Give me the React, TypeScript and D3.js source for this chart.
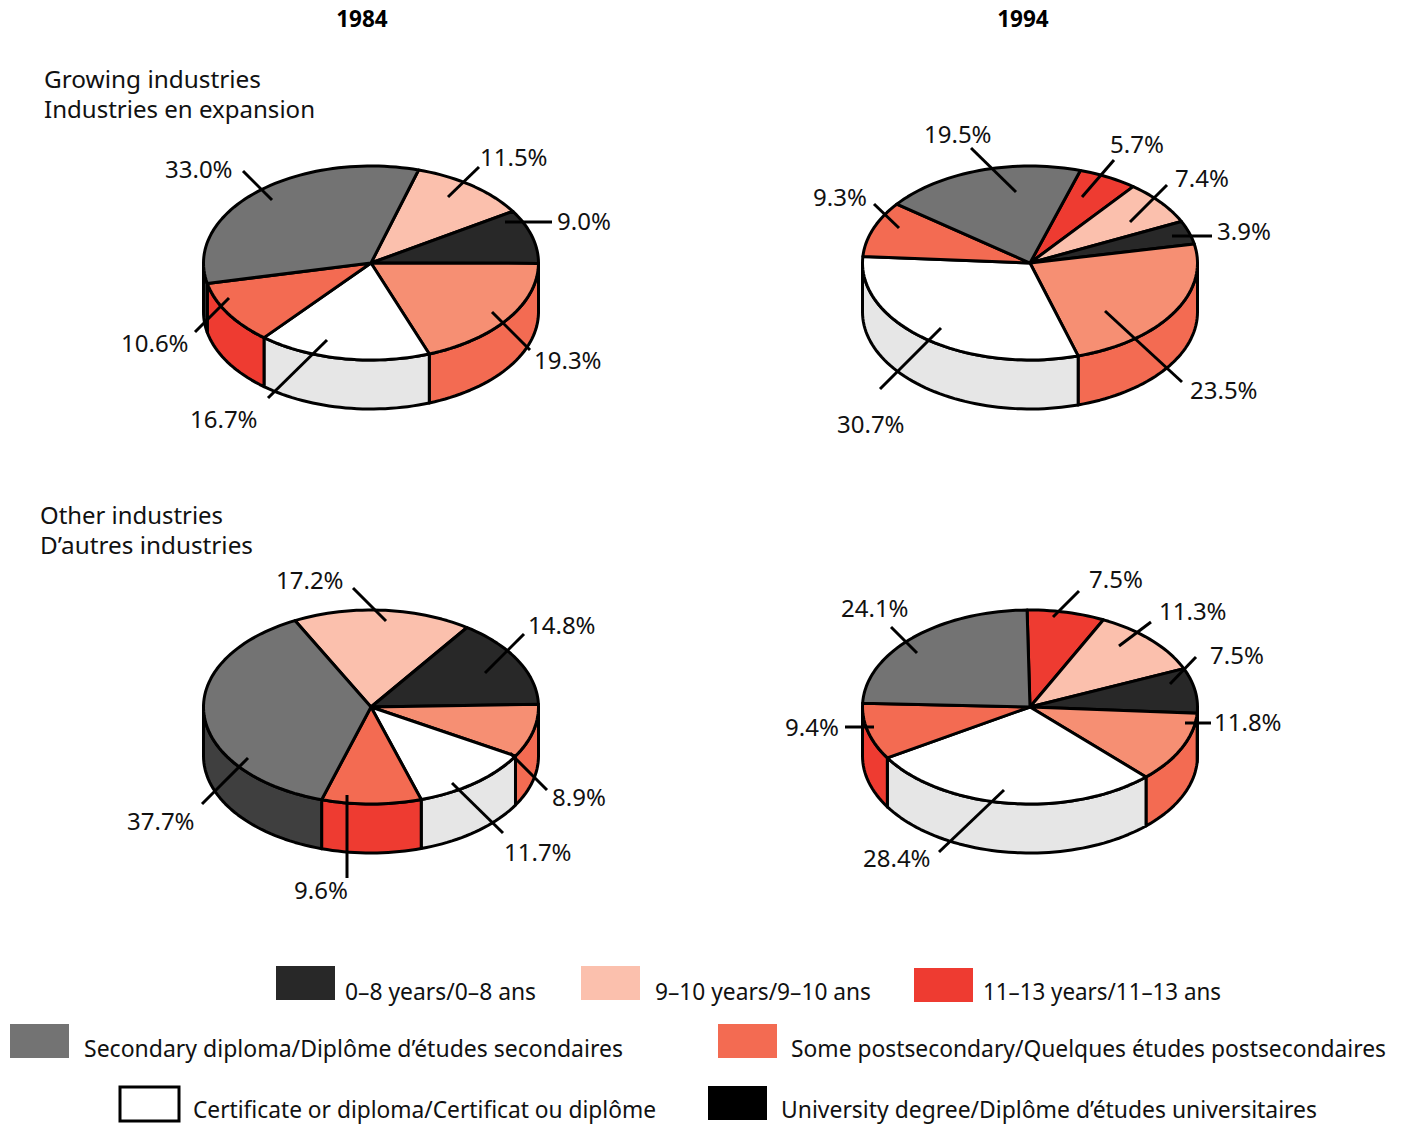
import React from "react";
import * as d3 from "d3";

// Education attainment shares by pie
const growing1984Values = [11.5, 9.0, 19.3, 16.7, 10.6, 33.0];
const growing1984Groups = ["pink", "dark", "salmon", "white", "coral", "grey"];
const growing1994Values = [5.7, 7.4, 3.9, 23.5, 30.7, 9.3, 19.5];
const growing1994Groups = ["red", "pink", "dark", "salmon", "white", "coral", "grey"];
const other1984Values = [17.2, 14.8, 8.9, 11.7, 9.6, 37.7];
const other1984Groups = ["pink", "dark", "salmon", "white", "coral", "grey"];
const other1994Values = [7.5, 11.3, 7.5, 11.8, 28.4, 9.4, 24.1];
const other1994Groups = ["red", "pink", "dark", "salmon", "white", "coral", "grey"];

const yearLabels = ["1984", "1994"];
const sectionLabels = [
  ["Growing industries", "Industries en expansion"],
  ["Other industries", "D’autres industries"],
];
const legendLabels = [
  "0–8 years/0–8 ans",
  "9–10 years/9–10 ans",
  "11–13 years/11–13 ans",
  "Secondary diploma/Diplôme d’études secondaires",
  "Some postsecondary/Quelques études postsecondaires",
  "Certificate or diploma/Certificat ou diplôme",
  "University degree/Diplôme d’études universitaires",
];

// Top face and outer wall colours per slice group
const topColour: Record<string, string> = {
  pink: "#FBC0AD",
  dark: "#282828",
  salmon: "#F68F73",
  white: "#FFFFFF",
  coral: "#F36B52",
  grey: "#737373",
  red: "#EE3B31",
};
const wallColour: Record<string, string> = {
  salmon: "#F36B52",
  white: "#E6E6E6",
  coral: "#EE3B31",
  grey: "#3F3F3F",
};

const RX = 167.5;
const RY = 97;
const DEPTH = 49;
const FONT = "'Noto Sans', sans-serif";

type Callout = { text: string; x: number; y: number; line: number[] };

const growing1984Callouts: Callout[] = [
  { text: "33.0%", x: 165, y: 178, line: [243, 171, 272, 200] },
  { text: "11.5%", x: 480, y: 166, line: [479, 167, 448, 197] },
  { text: "9.0%", x: 557, y: 230, line: [552, 222, 505, 222] },
  { text: "19.3%", x: 534, y: 369, line: [530, 350, 492, 312] },
  { text: "16.7%", x: 190, y: 428, line: [268, 398, 327, 340] },
  { text: "10.6%", x: 121, y: 352, line: [195, 332, 229, 298] },
];
const growing1994Callouts: Callout[] = [
  { text: "19.5%", x: 924, y: 143, line: [971, 148, 1016, 192] },
  { text: "5.7%", x: 1110, y: 153, line: [1114, 160, 1082, 197] },
  { text: "7.4%", x: 1175, y: 187, line: [1167, 185, 1130, 222] },
  { text: "3.9%", x: 1217, y: 240, line: [1212, 236, 1172, 236] },
  { text: "23.5%", x: 1190, y: 399, line: [1182, 382, 1105, 311] },
  { text: "30.7%", x: 837, y: 433, line: [880, 389, 941, 328] },
  { text: "9.3%", x: 813, y: 206, line: [874, 204, 899, 228] },
];
const other1984Callouts: Callout[] = [
  { text: "17.2%", x: 276, y: 589, line: [353, 588, 386, 621] },
  { text: "14.8%", x: 528, y: 634, line: [524, 634, 485, 673] },
  { text: "8.9%", x: 552, y: 806, line: [547, 790, 510, 753] },
  { text: "11.7%", x: 504, y: 861, line: [503, 833, 452, 783] },
  { text: "9.6%", x: 294, y: 899, line: [347, 878, 347, 795] },
  { text: "37.7%", x: 127, y: 830, line: [202, 804, 248, 758] },
];
const other1994Callouts: Callout[] = [
  { text: "24.1%", x: 841, y: 617, line: [891, 627, 917, 653] },
  { text: "7.5%", x: 1089, y: 588, line: [1079, 591, 1053, 617] },
  { text: "11.3%", x: 1159, y: 620, line: [1151, 622, 1119, 646] },
  { text: "7.5%", x: 1210, y: 664, line: [1196, 657, 1170, 684] },
  { text: "11.8%", x: 1214, y: 731, line: [1211, 723, 1185, 723] },
  { text: "9.4%", x: 785, y: 736, line: [845, 727, 874, 727] },
  { text: "28.4%", x: 863, y: 867, line: [939, 852, 1004, 790] },
];

const rad = (deg: number) => (deg * Math.PI) / 180;

function Pie3D({
  cx, cy, start, values, groups, callouts,
}: {
  cx: number; cy: number; start: number; values: number[]; groups: string[]; callouts: Callout[];
}) {
  const slices = d3
    .pie<number>()
    .sort(null)
    .startAngle(rad(start))
    .endAngle(rad(start + 360))(values);

  const pt = (t: number, dy = 0): [number, number] => [
    cx + RX * Math.sin(t),
    cy - RY * Math.cos(t) + dy,
  ];
  const line = d3.line<[number, number]>();
  const samples = (a: number, b: number, dy = 0) => {
    const n = Math.max(2, Math.ceil(Math.abs(b - a) / rad(2)));
    return d3.range(n + 1).map((i) => pt(a + ((b - a) * i) / n, dy));
  };

  const frontStart = rad(90);
  const frontEnd = rad(270);
  const walls = slices.flatMap((s, i) => {
    // A slice may wrap past a full turn, so test it on both sides
    const spans = [0, 2 * Math.PI].map((shift) => [
      Math.max(s.startAngle, frontStart + shift),
      Math.min(s.endAngle, frontEnd + shift),
    ]);
    return spans
      .filter(([a, b]) => b > a)
      .map(([a, b]) => ({
        key: `w${i}-${a}`,
        fill: wallColour[groups[i]] ?? topColour[groups[i]],
        d: line([...samples(a, b), ...samples(b, a, DEPTH)]) + "Z",
      }));
  });

  return (
    <g>
      {walls.map((w) => (
        <path key={w.key} d={w.d} fill={w.fill} stroke="#000" strokeWidth={3} strokeLinejoin="round" />
      ))}
      {slices.map((s, i) => (
        <path
          key={i}
          d={line([[cx, cy], ...samples(s.startAngle, s.endAngle)]) + "Z"}
          fill={topColour[groups[i]]}
          stroke="#000"
          strokeWidth={3}
          strokeLinejoin="round"
        />
      ))}
      {callouts.map((c, i) => (
        <g key={i}>
          <line x1={c.line[0]} y1={c.line[1]} x2={c.line[2]} y2={c.line[3]} stroke="#000" strokeWidth={3} />
          <text x={c.x} y={c.y} fontSize={24} fontFamily={FONT} fill="#111">
            {c.text}
          </text>
        </g>
      ))}
    </g>
  );
}

// Swatch box and text start for each legend entry
const legendLayout = [
  { x: 276, y: 966, tx: 345, ty: 1000, fill: "#282828", w: 191 },
  { x: 581, y: 966, tx: 655, ty: 1000, fill: "#FBC0AD", w: 216 },
  { x: 914, y: 968, tx: 983, ty: 1000, fill: "#EE3B31", w: 238 },
  { x: 10, y: 1024, tx: 84, ty: 1057, fill: "#737373", w: 539 },
  { x: 718, y: 1024, tx: 791, ty: 1057, fill: "#F36B52", w: 595 },
  { x: 120, y: 1087, tx: 193, ty: 1118, fill: "#FFFFFF", w: 463 },
  { x: 708, y: 1086, tx: 781, ty: 1118, fill: "#000000", w: 536 },
];

// Section heading placement with the measured line widths
const sectionLayout = [
  [{ x: 44, y: 88, w: 217 }, { x: 44, y: 118, w: 271 }],
  [{ x: 40, y: 524, w: 183 }, { x: 40, y: 554, w: 213 }],
];

export default function App() {
  return (
    <svg
      width={1404}
      height={1125}
      viewBox="0 0 1404 1125"
      style={{ position: "absolute", left: 0, top: 0, display: "block", background: "#fff" }}
    >
      <text x={362} y={27} textAnchor="middle" fontFamily={FONT} fontWeight={700} fontSize={22.5}>{yearLabels[0]}</text>
      <text x={1023} y={27} textAnchor="middle" fontFamily={FONT} fontWeight={700} fontSize={22.5}>{yearLabels[1]}</text>

      {sectionLabels.map((lines, s) =>
        lines.map((label, i) => {
          const p = sectionLayout[s][i];
          return (
            <text key={label} x={p.x} y={p.y} fontFamily={FONT} fontSize={24} fill="#111" textLength={p.w} lengthAdjust="spacingAndGlyphs">
              {label}
            </text>
          );
        })
      )}

      <Pie3D cx={371} cy={263} start={16.5} values={growing1984Values} groups={growing1984Groups} callouts={growing1984Callouts} />
      <Pie3D cx={1030} cy={263} start={17.5} values={growing1994Values} groups={growing1994Groups} callouts={growing1994Callouts} />
      <Pie3D cx={371} cy={707} start={-27} values={other1984Values} groups={other1984Groups} callouts={other1984Callouts} />
      <Pie3D cx={1030} cy={707} start={-1} values={other1994Values} groups={other1994Groups} callouts={other1994Callouts} />

      {legendLabels.map((label, i) => {
        const l = legendLayout[i];
        const outlined = l.fill === "#FFFFFF";
        return (
          <g key={label}>
            <rect
              x={l.x}
              y={l.y}
              width={59}
              height={34}
              fill={l.fill}
              stroke={outlined ? "#000" : "none"}
              strokeWidth={outlined ? 3 : 0}
            />
            <text
              x={l.tx}
              y={l.ty}
              fontFamily={FONT}
              fontSize={23}
              fill="#111"
              textLength={l.w}
              lengthAdjust="spacingAndGlyphs"
            >
              {label}
            </text>
          </g>
        );
      })}
    </svg>
  );
}
